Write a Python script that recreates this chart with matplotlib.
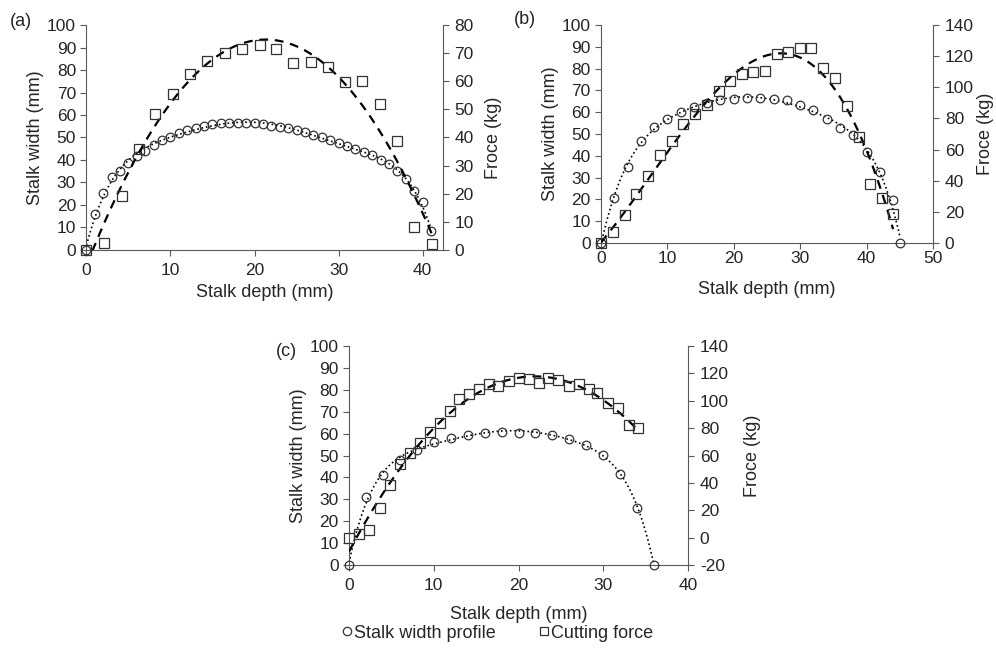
import numpy as np
import matplotlib
matplotlib.use("Agg")
import matplotlib.pyplot as plt
from matplotlib.lines import Line2D

plt.rcParams['font.family'] = ['Liberation Sans', 'DejaVu Sans']
plt.rcParams['font.size'] = 12
plt.rcParams['axes.unicode_minus'] = False

# ---- data ----
# (a)
a_width_x = list(range(0, 42))
a_width_y = [0, 16, 25.2, 32.6, 35.1, 38.8, 41.9, 44, 46.5, 48.7, 50.4, 51.9, 53.2, 54.2,
             55.3, 55.8, 56.3, 56.4, 56.4, 56.3, 56.3, 55.8, 55.3, 54.8, 54.2, 53.3, 52.3,
             51.1, 50.2, 49, 47.7, 46.4, 44.9, 43.4, 42.1, 40, 38.1, 35.1, 31.4, 26.4, 21.2, 8.6]
a_force_x = [0, 2.1, 4.2, 6.2, 8.2, 10.3, 12.3, 14.4, 16.5, 18.5, 20.6, 22.6, 24.6, 26.7,
             28.7, 30.8, 32.8, 34.9, 37.0, 39.0, 41.1]
a_force_y = [0, 2.6, 19.2, 35.8, 48.5, 55.6, 62.6, 67.2, 69.9, 71.6, 72.9, 71.5, 66.6, 66.7,
             65.2, 59.6, 60.1, 51.8, 38.9, 8.3, 2.0]

# (b)
b_width_x = [0, 2, 4, 6, 8, 10, 12, 14, 16, 18, 20, 22, 24, 26, 28, 30, 32, 34, 36, 38,
             40, 42, 44, 45]
b_width_y = [0, 20.8, 35, 46.6, 53.1, 56.9, 60.2, 62.5, 64.1, 65.6, 66.1, 66.4, 66.4, 66.1,
             65.4, 63.4, 61, 56.9, 52.9, 49.5, 41.8, 32.7, 19.7, 0]
b_force_x = [0, 1.8, 3.6, 5.3, 7.1, 8.9, 10.7, 12.4, 14.2, 15.9, 17.7, 19.4, 21.2, 22.9,
             24.7, 26.5, 28.2, 30.0, 31.7, 33.5, 35.2, 37.0, 38.8, 40.5, 42.3, 44.0]
b_force_y = [0, 6.9, 18, 31.5, 43, 56.3, 65.3, 76.2, 82.7, 88.6, 97.8, 104.2, 108.3, 109.8,
             110.7, 121.4, 122.5, 125.4, 125, 112.2, 105.8, 88, 67.9, 37.7, 28.7, 18.4]

# (c)
c_width_x = [0, 2, 4, 6, 8, 10, 12, 14, 16, 18, 20, 22, 24, 26, 28, 30, 32, 34, 36]
c_width_y = [0, 30.9, 40.9, 48, 52.5, 56, 58.1, 59.2, 60.5, 60.8, 60.5, 60.5, 59.4, 57.4,
             54.8, 50.1, 41.5, 26.2, 0]
c_force_x = [0, 1.2, 2.4, 3.6, 4.8, 6.0, 7.2, 8.4, 9.6, 10.7, 11.9, 13.0, 14.2, 15.3, 16.5,
             17.6, 18.9, 20.0, 21.2, 22.4, 23.5, 24.7, 25.9, 27.1, 28.3, 29.3, 30.5, 31.7,
             33.0, 34.1]
c_force_y = [0, 2.5, 5.6, 22.0, 38.5, 53.8, 61.6, 69.4, 77.0, 84.0, 92.5, 101.5, 104.7,
             108.6, 112.0, 110.8, 114.7, 116.4, 115.7, 112.8, 116.4, 115.2, 110.8, 112.0,
             108.4, 105.9, 98.1, 94.5, 82.3, 79.9]

SPINE = '#595959'
TXT = '#262626'
MK = '#333333'


def trend(x, y, deg):
    p = np.polynomial.Polynomial.fit(x, y, deg)
    xs = np.linspace(min(x), max(x), 300)
    return xs, p(xs)


def panel(rect, wx, wy, fx, fy, xmax, xticks, y2lim, y2ticks, fdeg,
          xpad=5.5, xlabpad=4, y2labpad=4):
    ax = fig.add_axes(rect)
    ax2 = ax.twinx()

    xs, ys = trend(wx, wy, 6)
    ax.plot(xs, ys, ':', color='k', lw=1.2, zorder=2)
    ax.plot(wx, wy, 'o', mfc='none', mec=MK, mew=0.9, ms=6.2, zorder=3, clip_on=False)

    xs, ys = trend(fx, fy, fdeg)
    ax2.plot(xs, ys, '--', color='k', lw=1.6, dashes=(4, 3), zorder=2)
    ax2.plot(fx, fy, 's', mfc='none', mec=MK, mew=0.9, ms=6.5, zorder=3, clip_on=False)

    ax.set_xlim(0, xmax)
    ax.set_ylim(0, 100)
    ax.set_xticks(xticks)
    ax.set_yticks(range(0, 101, 10))
    ax2.set_ylim(*y2lim)
    ax2.set_yticks(y2ticks)

    for a in (ax, ax2):
        a.spines['top'].set_visible(False)
        a.patch.set_visible(False)
        for s in a.spines.values():
            s.set_color(SPINE)
        a.tick_params(direction='out', length=4, width=0.8, color=SPINE,
                      labelcolor=TXT, labelsize=12.5)
    ax.tick_params(axis='x', pad=xpad)
    ax.tick_params(axis='y', pad=3.5)
    ax2.tick_params(axis='y', pad=4.5)
    ax.spines['right'].set_visible(False)
    ax2.spines['left'].set_visible(False)
    ax2.spines['bottom'].set_visible(False)

    ax.set_xlabel('Stalk depth (mm)', fontsize=13, color=TXT, labelpad=xlabpad)
    ax.set_ylabel('Stalk width (mm)', fontsize=13, color=TXT, labelpad=2)
    ax2.set_ylabel('Froce (kg)', fontsize=13, color=TXT, labelpad=y2labpad)
    return ax


fig = plt.figure(figsize=(9.96, 6.62), dpi=100)

panel([0.0868, 0.6224, 0.3577, 0.3398], a_width_x, a_width_y, a_force_x, a_force_y,
      42.4, [0, 10, 20, 30, 40], (0, 80), range(0, 81, 10), 2,
      xpad=5.5, xlabpad=4, y2labpad=8)
panel([0.6034, 0.6329, 0.3333, 0.3293], b_width_x, b_width_y, b_force_x, b_force_y,
      50, [0, 10, 20, 30, 40, 50], (0, 140), range(0, 141, 20), 3,
      xpad=2, xlabpad=10.5, y2labpad=2.5)
panel([0.3504, 0.1465, 0.3404, 0.3308], c_width_x, c_width_y, c_force_x, c_force_y,
      40, [0, 10, 20, 30, 40], (-20, 140), range(-20, 141, 20), 2,
      xpad=5.5, xlabpad=9, y2labpad=11)

fig.text(10 / 996, 1 - 22 / 662, '(a)', fontsize=13, color=TXT, va='center')
fig.text(514 / 996, 1 - 20 / 662, '(b)', fontsize=13, color=TXT, va='center')
fig.text(276 / 996, 1 - 352 / 662, '(c)', fontsize=13, color=TXT, va='center')

handles = [
    Line2D([], [], ls='none', marker='o', mfc='none', mec=MK, mew=0.9, ms=6,
           label='Stalk width profile'),
    Line2D([], [], ls='none', marker='s', mfc='none', mec=MK, mew=0.9, ms=6,
           label='Cutting force'),
]
fig.legend(handles=handles, loc='center', bbox_to_anchor=(0.5, 1 - 633 / 662), ncol=2,
           frameon=False, fontsize=13, handlelength=0.5, handletextpad=0.15,
           columnspacing=2.4, labelcolor=TXT)

fig.savefig('out.png', dpi=100)
